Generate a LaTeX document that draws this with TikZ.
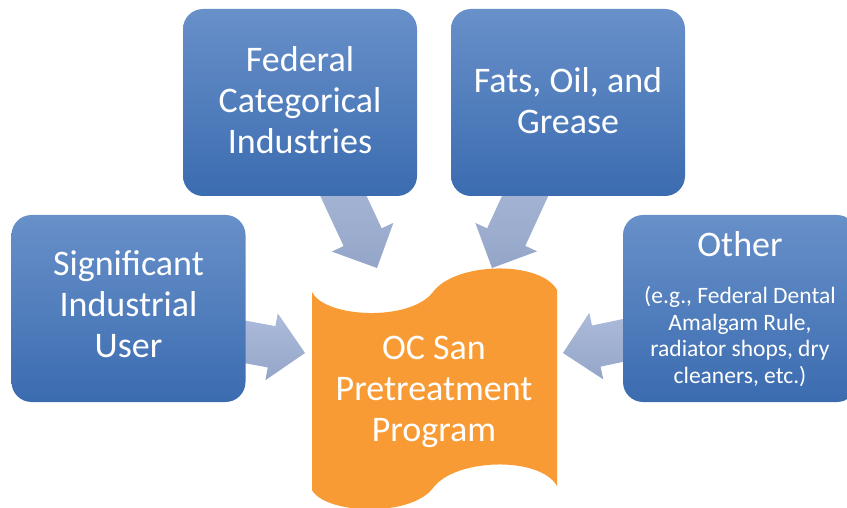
\documentclass[tikz,border=0pt]{standalone}
\usepackage{fontspec}
\setmainfont{Carlito}
\definecolor{boxtop}{HTML}{6890C9}
\definecolor{boxbot}{HTML}{3B6CB0}
\definecolor{arrtop}{HTML}{AEBCDC}
\definecolor{arrbot}{HTML}{94A6C8}
\definecolor{orangefill}{HTML}{F99B35}
\tikzset{
  bluebox/.style={rectangle, rounded corners=20pt, minimum width=234pt, minimum height=187pt,
    top color=boxtop, bottom color=boxbot, draw=none, inner sep=0pt},
  bigtext/.style={text=white, align=center, font=\fontsize{36}{41}\selectfont, inner sep=0pt},
  smalltext/.style={text=white, align=center, font=\fontsize{23.5}{26.7}\selectfont, inner sep=0pt},
  arrowshade/.style={top color=arrtop, bottom color=arrbot, draw=none},
  tapefill/.style={fill=orangefill, draw=none}
}
% block arrow: #1 = tip coordinate, #2 = rotation angle, #3 = shaft length
\newcommand\blockarrow[3]{%
  \shade[arrowshade]
    ([shift={(#1)},rotate=#2]0,0) --
    ([shift={(#1)},rotate=#2]-34,-34) --
    ([shift={(#1)},rotate=#2]-34,-21) --
    ([shift={(#1)},rotate=#2]-#3,-21) --
    ([shift={(#1)},rotate=#2]-#3,21) --
    ([shift={(#1)},rotate=#2]-34,21) --
    ([shift={(#1)},rotate=#2]-34,34) -- cycle;}
\begin{document}
\begin{tikzpicture}[x=1pt, y=-1pt]
\useasboundingbox (0,0) rectangle (847,508);
\clip (0,0) rectangle (847,508);

% arrow tips
\coordinate (tipL) at (305,353);
\coordinate (tipTL) at (377,268);
\coordinate (tipTR) at (492,268);
\coordinate (tipR) at (563,353);

\blockarrow{tipL}{-10.5}{120}
\blockarrow{tipTL}{-65}{130}
\blockarrow{tipTR}{-114.7}{130}
\blockarrow{tipR}{-168.2}{120}

% boxes
\node[bluebox] (siu) at (128.5,308.5) {};
\node[bluebox] (fci) at (300,102.5) {};
\node[bluebox] (fog) at (568,102.5) {};
\node[bluebox] (oth) at (740,308.5) {};

\node[bigtext] (siut) at (128.5,304.5) {Significant\\Industrial\\User};
\node[bigtext] (fcit) at (300,100) {Federal\\Categorical\\Industries};
\node[bigtext] (fogt) at (568,100.5) {Fats, Oil, and\\Grease};
\node[bigtext] (otht) at (740,244.5) {Other};
\node[smalltext] (oths) at (740,336.5) {(e.g., Federal Dental\\Amalgam Rule,\\radiator shops, dry\\cleaners, etc.)};

% orange tape
\fill[tapefill] (312,292)
  .. controls (325,318) and (410,322) .. (433,292)
  .. controls (455,262) and (540,260) .. (557,290)
  -- (557,486)
  .. controls (540,456) and (455,458) .. (433,488)
  .. controls (410,518) and (325,514) .. (312,490) -- cycle;
\coordinate (ocs) at (434,392);
\node[bigtext] (ocst) at (ocs) {OC San\\Pretreatment\\Program};
\end{tikzpicture}
\end{document}
